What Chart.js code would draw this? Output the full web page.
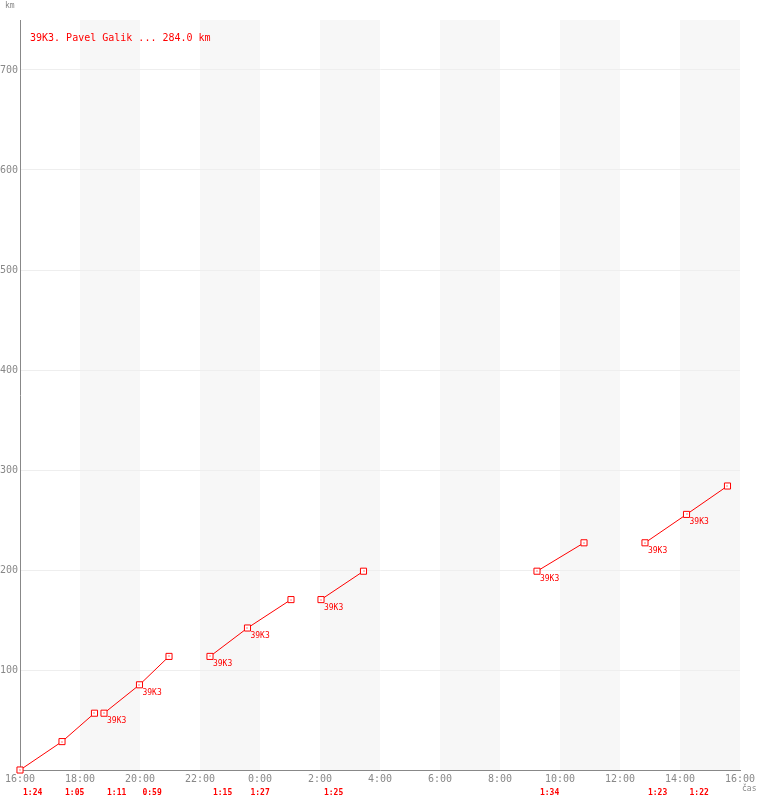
<!DOCTYPE html>
<html>
<head>
<meta charset="utf-8">
<script src="https://cdn.jsdelivr.net/npm/chart.js@4/dist/chart.umd.min.js"></script>
<style>
html,body{margin:0;padding:0;background:#fff;}
#wrap{width:760px;height:800px;position:relative;}
</style>
</head>
<body>
<div id="wrap"><canvas id="c" width="760" height="800"></canvas></div>
<script>
// Hours elapsed since 16:00 and cumulative km, one array pair per continuous segment
const seg1Hours = [0, 1.4, 2.483];
const seg1Km    = [0, 28.4, 56.8];
const seg2Hours = [2.8, 3.983, 4.967];
const seg2Km    = [56.8, 85.2, 113.6];
const seg3Hours = [6.333, 7.583, 9.033];
const seg3Km    = [113.6, 142.0, 170.4];
const seg4Hours = [10.033, 11.45];
const seg4Km    = [170.4, 198.8];
const seg5Hours = [17.233, 18.8];
const seg5Km    = [198.8, 227.2];
const seg6Hours = [20.833, 22.217, 23.583];
const seg6Km    = [227.2, 255.6, 284.0];
// which points carry the "39K3" tag
const seg1Tags = [false, false, false];
const seg2Tags = [true, true, false];
const seg3Tags = [true, true, false];
const seg4Tags = [true, false];
const seg5Tags = [true, false];
const seg6Tags = [true, true, false];
// leg durations: start hour of each leg and its label
const legStartHours = [0, 1.4, 2.8, 3.983, 6.333, 7.583, 10.033, 17.233, 20.833, 22.217];
const legDurations  = ['1:24','1:05','1:11','0:59','1:15','1:27','1:25','1:34','1:23','1:22'];
// shaded two-hour bands (hours since 16:00)
const bandStarts = [2, 6, 10, 14, 18, 22];
const bandLength = 2;
const tagText = '39K3';
const legendText = '39K3. Pavel Galik ... 284.0 km';
const startClock = 16;

const MONO = '"DejaVu Sans Mono", "Liberation Mono", monospace';
const RED = '#ff0000';

function mk(h, k, tags){
  return {
    data: h.map((x,i)=>({x:x, y:k[i]})),
    tags: tags,
    clip: false,
    borderColor: RED,
    borderWidth: 1,
    pointStyle: 'rect',
    pointRadius: 4.3,
    pointBorderWidth: 1,
    pointBorderColor: RED,
    pointBackgroundColor: '#ffffff',
    pointHoverRadius: 4.3,
    tension: 0,
    fill: false
  };
}

const datasets = [
  mk(seg1Hours, seg1Km, seg1Tags),
  mk(seg2Hours, seg2Km, seg2Tags),
  mk(seg3Hours, seg3Km, seg3Tags),
  mk(seg4Hours, seg4Km, seg4Tags),
  mk(seg5Hours, seg5Km, seg5Tags),
  mk(seg6Hours, seg6Km, seg6Tags)
];

const bandsPlugin = {
  id: 'bands',
  beforeDraw(chart){
    const {ctx, chartArea, scales:{x}} = chart;
    ctx.save();
    ctx.fillStyle = '#f7f7f7';
    bandStarts.forEach(b=>{
      const x0 = x.getPixelForValue(b), x1 = x.getPixelForValue(b+bandLength);
      ctx.fillRect(x0, chartArea.top, x1-x0, chartArea.bottom-chartArea.top);
    });
    ctx.restore();
  }
};

const textPlugin = {
  id: 'texts',
  afterDatasetsDraw(chart){
    const {ctx, chartArea, scales:{x}} = chart;
    ctx.save();
    // center dots and tags
    chart.data.datasets.forEach((ds, di)=>{
      const meta = chart.getDatasetMeta(di);
      meta.data.forEach((pt, i)=>{
        ctx.fillStyle = RED;
        ctx.fillRect(Math.round(pt.x)-0.5, Math.round(pt.y)-0.5, 1, 1);
        if (ds.tags[i]) {
          ctx.font = '8px ' + MONO;
          ctx.textAlign = 'left';
          ctx.textBaseline = 'middle';
          ctx.fillText(tagText, pt.x + 3, pt.y + 8);
        }
      });
    });
    // legend
    ctx.fillStyle = RED;
    ctx.font = '10px ' + MONO;
    ctx.textAlign = 'left';
    ctx.textBaseline = 'middle';
    ctx.fillText(legendText, 30, 38);
    // durations
    ctx.font = 'bold 8px ' + MONO;
    legStartHours.forEach((h, i)=>{
      ctx.fillText(legDurations[i], x.getPixelForValue(h) + 3, 793);
    });
    // axis titles
    ctx.fillStyle = '#888';
    ctx.font = '8px ' + MONO;
    ctx.textBaseline = 'top';
    ctx.fillText('km', 5, 2);
    ctx.fillText('čas', 742, 785);
    ctx.restore();
  }
};

new Chart(document.getElementById('c'), {
  type: 'line',
  data: { datasets },
  options: {
    responsive: false,
    animation: false,
    events: [],
    layout: { padding: { top: 20, right: 20, left: 0, bottom: 0 } },
    plugins: { legend: { display: false }, tooltip: { enabled: false } },
    scales: {
      x: {
        type: 'linear',
        min: 0, max: 24,
        afterFit(s){ s.height = 30; },
        ticks: {
          stepSize: 2,
          autoSkip: false,
          maxRotation: 0,
          padding: 3,
          color: '#888',
          font: { family: MONO, size: 10 },
          callback: v => ((startClock + v) % 24) + ':00'
        },
        grid: { color: 'rgba(0,0,0,0)', drawTicks: false },
        border: { display: true, color: '#888', width: 1 }
      },
      y: {
        type: 'linear',
        min: 0, max: 750,
        afterFit(s){ s.width = 20; },
        ticks: {
          stepSize: 100,
          padding: 2,
          color: '#888',
          font: { family: MONO, size: 10 },
          callback: v => (v > 0 && v % 100 === 0) ? String(v) : ''
        },
        grid: {
          drawTicks: false,
          color: c => (c.tick && c.tick.value > 0 && c.tick.value % 100 === 0) ? '#eeeeee' : 'rgba(0,0,0,0)',
          lineWidth: 1
        },
        border: { display: true, color: '#888', width: 1 }
      }
    }
  },
  plugins: [bandsPlugin, textPlugin]
});
</script>
</body>
</html>
